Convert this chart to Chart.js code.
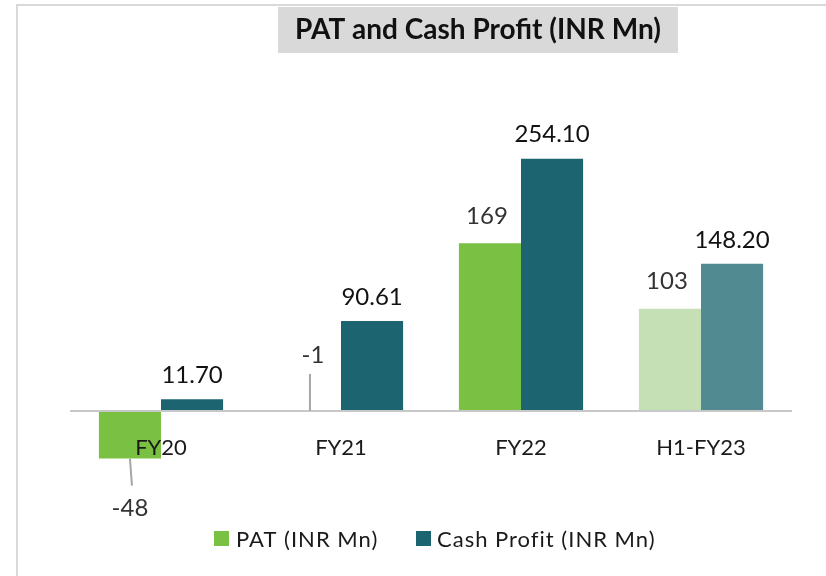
<!DOCTYPE html>
<html>
<head>
<meta charset="utf-8">
<script src="https://cdn.jsdelivr.net/npm/chart.js@4.4.0/dist/chart.umd.min.js"></script>
<style>
  body { margin: 0; background: #fff; }
  #wrap { position: relative; width: 826px; height: 576px; }
</style>
</head>
<body>
<div id="wrap"><canvas id="chart" width="826" height="576"></canvas></div>
<script>
// data
const categories = ["FY20", "FY21", "FY22", "H1-FY23"];
const patValues = [-48, -1, 169, 103];
const cashValues = [11.70, 90.61, 254.10, 148.20];
const patLabels = ["-48", "-1", "169", "103"];
const cashLabels = ["11.70", "90.61", "254.10", "148.20"];
const seriesNames = ["PAT (INR Mn)", "Cash Profit (INR Mn)"];
const chartTitle = "PAT and Cash Profit (INR Mn)";

const patColors = ["#7AC143", "#7AC143", "#7AC143", "#C5E0B4"];
const cashColors = ["#1C6570", "#1C6570", "#1C6570", "#528A92"];
const FONT = "Lato, 'Open Sans', sans-serif";

// frame, title box, zero line, labels, leader lines, legend
const decor = {
  id: "decor",
  beforeDraw(chart) {
    const ctx = chart.ctx;
    ctx.save();
    ctx.fillStyle = "#d9d9d9";
    ctx.fillRect(16, 4, 826 - 16, 2);
    ctx.fillRect(16, 4, 2, 576);
    // title box
    ctx.fillStyle = "#d9d9d9";
    ctx.fillRect(278, 7, 400, 46);
    ctx.fillStyle = "#111";
    ctx.font = "bold 28px " + FONT;
    ctx.textAlign = "center";
    ctx.textBaseline = "middle";
    ctx.fillText(chartTitle, 478, 30);
    ctx.restore();
  },
  afterDatasetsDraw(chart) {
    const ctx = chart.ctx;
    const x = chart.scales.x, y = chart.scales.y;
    const y0 = y.getPixelForValue(0);
    ctx.save();
    // zero line
    ctx.strokeStyle = "#c8c8c8";
    ctx.lineWidth = 2;
    ctx.beginPath();
    ctx.moveTo(x.left - 1, y0);
    ctx.lineTo(x.right + 1, y0);
    ctx.stroke();

    // category labels at zero line
    ctx.fillStyle = "#1a1a1a";
    ctx.font = "22px " + FONT;
    ctx.textAlign = "center";
    ctx.textBaseline = "middle";
    categories.forEach((c, i) => {
      ctx.fillText(c, x.getPixelForValue(i), y0 + 37);
    });

    // value labels
    const patMeta = chart.getDatasetMeta(0).data;
    const cashMeta = chart.getDatasetMeta(1).data;
    ctx.font = "24px " + FONT;
    cashMeta.forEach((b, i) => {
      ctx.fillStyle = "#111";
      ctx.fillText(cashLabels[i], b.x, b.y - 24);
    });
    ctx.strokeStyle = "#a6a6a6";
    ctx.lineWidth = 2;
    patMeta.forEach((b, i) => {
      ctx.fillStyle = "#333";
      const v = patValues[i];
      if (v < -10) {
        ctx.beginPath();
        ctx.moveTo(b.x, b.y);
        ctx.lineTo(b.x + 2, b.y + 27);
        ctx.stroke();
        ctx.fillText(patLabels[i], b.x, b.y + 50);
      } else if (v < 0) {
        ctx.beginPath();
        ctx.moveTo(b.x, y0);
        ctx.lineTo(b.x, y0 - 37);
        ctx.stroke();
        ctx.fillText(patLabels[i], b.x + 3, y0 - 56);
      } else {
        ctx.fillText(patLabels[i], b.x - 3, b.y - 27);
      }
    });

    // legend
    ctx.font = "22px " + FONT;
    ctx.textAlign = "left";
    ctx.letterSpacing = "1px";
    ctx.fillStyle = patColors[0];
    ctx.fillRect(214, 531, 15, 15);
    ctx.fillStyle = "#1a1a1a";
    ctx.fillText(seriesNames[0], 236, 540);
    ctx.fillStyle = cashColors[0];
    ctx.fillRect(416, 531, 15, 15);
    ctx.fillStyle = "#1a1a1a";
    ctx.fillText(seriesNames[1], 437, 540);
    ctx.restore();
  }
};

new Chart(document.getElementById("chart"), {
  type: "bar",
  data: {
    labels: categories,
    datasets: [
      { label: seriesNames[0], data: patValues, backgroundColor: patColors, borderWidth: 0 },
      { label: seriesNames[1], data: cashValues, backgroundColor: cashColors, borderWidth: 0 }
    ]
  },
  options: {
    responsive: false,
    animation: false,
    layout: { padding: { left: 71, right: 35, top: 123, bottom: 105.5 } },
    datasets: { bar: { categoryPercentage: 0.69, barPercentage: 1 } },
    scales: {
      x: { display: false, grid: { display: false } },
      y: { display: false, min: -60, max: 290, grid: { display: false } }
    },
    plugins: {
      legend: { display: false },
      title: { display: false },
      tooltip: { enabled: false }
    }
  },
  plugins: [decor]
});
</script>
</body>
</html>
